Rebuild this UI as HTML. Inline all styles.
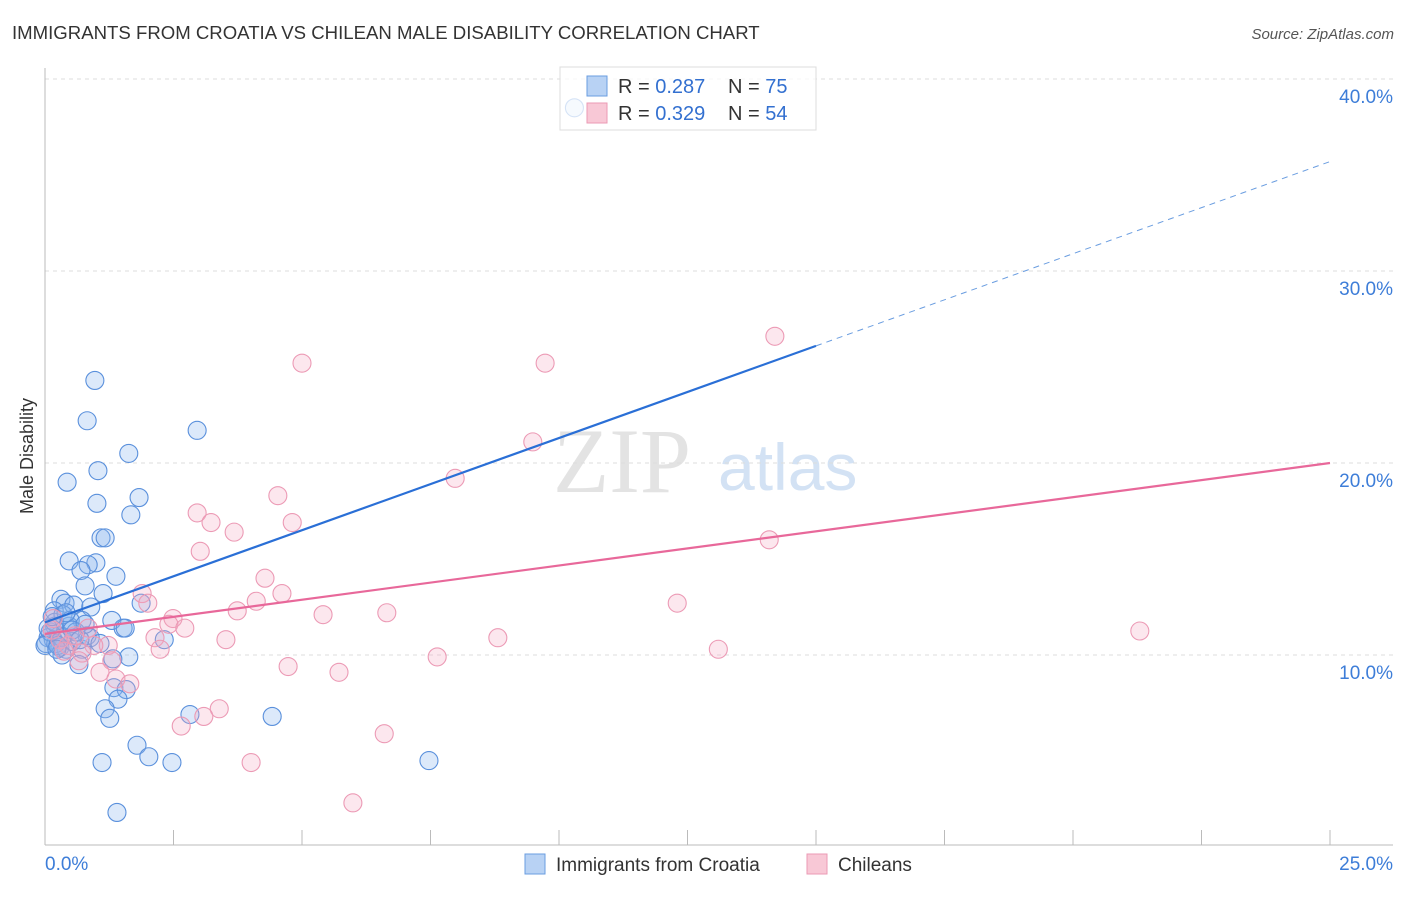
<!DOCTYPE html>
<html><head><meta charset="utf-8"><style>
body{margin:0;background:#fff;font-family:"Liberation Sans",sans-serif}
</style></head><body>
<svg id="chart" width="1406" height="892" xmlns="http://www.w3.org/2000/svg">
<text x="12" y="39" font-size="18.6" fill="#333">IMMIGRANTS FROM CROATIA VS CHILEAN MALE DISABILITY CORRELATION CHART</text>
<text x="1394" y="39" font-size="15" fill="#555" font-style="italic" text-anchor="end">Source: ZipAtlas.com</text>
<text x="33" y="456" font-size="18" fill="#333" text-anchor="middle" transform="rotate(-90 33 456)">Male Disability</text>
<g><text x="553" y="492" font-size="92" font-family="Liberation Serif,serif" fill="#e3e3e3">ZIP</text><text x="718" y="490" font-size="66" fill="#d3e2f4">atlas</text></g>
<g id="grid"></g><g id="axes"></g><g id="pts"></g><g id="lines"></g>
<g>
<rect x="560" y="67" width="256" height="63" fill="rgba(255,255,255,0.75)" stroke="#ddd"/>
<rect x="587" y="76" width="20" height="20" fill="#b8d2f4" stroke="#6a9de0"/>
<rect x="587" y="103" width="20" height="20" fill="#f8c8d6" stroke="#eb9ab4"/>
<text x="618" y="93" font-size="20" fill="#333">R = <tspan fill="#3370d0">0.287</tspan></text>
<text x="728" y="93" font-size="20" fill="#333">N = <tspan fill="#3370d0">75</tspan></text>
<text x="618" y="120" font-size="20" fill="#333">R = <tspan fill="#3370d0">0.329</tspan></text>
<text x="728" y="120" font-size="20" fill="#333">N = <tspan fill="#3370d0">54</tspan></text>
</g>
<g>
<rect x="525" y="854" width="20" height="20" fill="#b8d2f4" stroke="#6a9de0"/>
<text x="556" y="871" font-size="19" fill="#333">Immigrants from Croatia</text>
<rect x="807" y="854" width="20" height="20" fill="#f8c8d6" stroke="#eb9ab4"/>
<text x="838" y="871" font-size="19" fill="#333">Chileans</text>
</g>
</svg>
<script>
const yTicks=[10,20,30,40];
const yTickLabels=["10.0%","20.0%","30.0%","40.0%"];
const xTickLabels=["0.0%","25.0%"];
const blueX=[0.97,0.82,2.96,1.63,1.03,0.43,1.83,1.01,1.67,1.09,1.17,0.47,0.99,0.84,0.70,0.78,1.38,1.13,0.31,0.39,0.18,0.56,0.89,1.87,0.72,1.30,1.52,1.56,0.47,0.19,0.27,0.06,0.16,0.29,0.41,0.53,0.72,0.82,0.02,0.66,0.21,0.33,2.32,1.63,1.32,1.34,1.58,1.42,1.17,1.26,2.82,4.42,1.79,2.02,1.11,2.47,7.47,1.40,0.10,0.19,0.35,0.49,0.60,0.0,0.06,0.25,0.88,0.53,0.41,1.07,0.68,0.33,0.78,0.23,0.14,10.3];
const blueY=[24.3,22.2,21.7,20.5,19.6,19.0,18.2,17.9,17.3,16.1,16.1,14.9,14.8,14.7,14.4,13.6,14.1,13.2,12.9,12.7,12.3,12.6,12.5,12.7,11.8,11.8,11.4,11.4,11.5,11.5,11.0,10.9,10.8,10.4,10.3,10.7,10.3,11.0,10.6,9.5,10.6,10.9,10.8,9.9,9.8,8.3,8.2,7.7,7.2,6.7,6.9,6.8,5.3,4.7,4.4,4.4,4.5,1.8,11.2,11.7,12.1,11.8,11.2,10.5,11.4,10.5,10.9,11.3,12.2,10.6,10.8,10.0,11.6,10.3,12.0,38.5];
const pinkX=[14.2,5.0,9.73,9.49,7.98,4.53,2.96,3.23,4.81,3.68,3.02,14.09,4.28,1.89,4.61,4.11,2.0,12.3,3.74,5.41,6.65,2.49,2.41,2.72,21.3,8.81,2.14,3.52,2.24,13.1,7.63,1.23,0.95,0.72,0.66,1.30,4.73,5.72,1.07,1.38,1.65,3.39,3.09,2.65,6.6,4.01,5.99,0.29,0.45,0.14,0.58,0.16,0.84,0.37];
const pinkY=[26.6,25.2,25.2,21.1,19.2,18.3,17.4,16.9,16.9,16.4,15.4,16.0,14.0,13.2,13.2,12.8,12.7,12.7,12.3,12.1,12.2,11.9,11.6,11.4,11.25,10.9,10.9,10.8,10.3,10.3,9.9,10.5,10.5,10.1,9.7,9.7,9.4,9.1,9.1,8.75,8.5,7.2,6.8,6.3,5.9,4.4,2.3,10.8,10.5,11.3,11.0,11.9,11.4,10.2];
const blueFit=[11.7,0.96];
const pinkFit=[11.1,0.356];
const NS="http://www.w3.org/2000/svg";
const X=v=>45+v*1285/25, Y=v=>847-v*19.2;
function mk(t,a,p){const e=document.createElementNS(NS,t);for(const k in a)e.setAttribute(k,a[k]);p.appendChild(e);return e;}
const g=document.getElementById('grid'),ax=document.getElementById('axes'),pts=document.getElementById('pts'),ln=document.getElementById('lines');
yTicks.forEach((t,i)=>{
 const l=mk('line',{x1:45,x2:1393,y1:Y(t),y2:Y(t),stroke:'#ddd','stroke-dasharray':'4,4'},g);
 
 
 const tx=mk('text',{x:1393,y:Y(t)+24,'font-size':19,fill:'#3d7dd8','text-anchor':'end'},ax);
 tx.textContent=yTickLabels[i];
 
 
});
mk('line',{x1:45,x2:45,y1:68,y2:845,stroke:'#bbb'},ax);
mk('line',{x1:45,x2:1393,y1:845,y2:845,stroke:'#bbb'},ax);
for(let k=1;k<=10;k++){const t=mk('line',{x1:45+k*128.5,x2:45+k*128.5,y1:830,y2:845,stroke:'#bbb'},ax);
 
 }
[[0,'start',45],[25,'end',1393]].forEach((o,i)=>{const t=mk('text',{x:o[2],y:870,'font-size':19,fill:'#3d7dd8','text-anchor':o[1]},ax);t.textContent=xTickLabels[i];
 
 });
blueX.forEach((x,i)=>{const c=mk('circle',{cx:X(x),cy:Y(blueY[i]),r:9,fill:'rgba(140,182,238,0.3)',stroke:'#5a90dc','stroke-width':1.1},pts);
 
 });
pinkX.forEach((x,i)=>{const c=mk('circle',{cx:X(x),cy:Y(pinkY[i]),r:9,fill:'rgba(245,170,195,0.28)',stroke:'#ec9ab5','stroke-width':1.1},pts);
 
 });
let l=mk('line',{x1:X(0),y1:Y(blueFit[0]),x2:X(15),y2:Y(blueFit[0]+15*blueFit[1]),stroke:'#2a6fd6','stroke-width':2.2},ln);


l=mk('line',{x1:X(15),y1:Y(blueFit[0]+15*blueFit[1]),x2:X(25),y2:Y(blueFit[0]+25*blueFit[1]),stroke:'#6a9de0','stroke-width':1,'stroke-dasharray':'6,5'},ln);


l=mk('line',{x1:X(0),y1:Y(pinkFit[0]),x2:X(25),y2:Y(pinkFit[0]+25*pinkFit[1]),stroke:'#e8689a','stroke-width':2.2},ln);


</script>
</body></html>
